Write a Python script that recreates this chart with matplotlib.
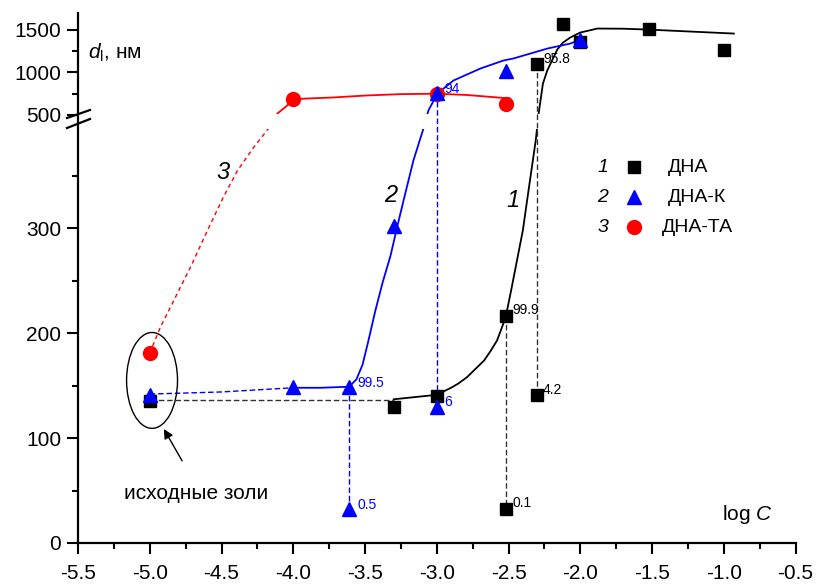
import matplotlib
matplotlib.use("Agg")
import matplotlib.pyplot as plt
import numpy as np
from matplotlib.patches import Ellipse

plt.rcParams['font.family'] = ['Liberation Sans', 'DejaVu Sans']
plt.rcParams['axes.unicode_minus'] = False
plt.rcParams['mathtext.fontset'] = 'custom'
plt.rcParams['mathtext.rm'] = 'Liberation Sans'
plt.rcParams['mathtext.it'] = 'Liberation Sans:italic'

# 1 - ДНА (squares)
sq_x = [-5.0, -3.3, -3.0, -2.52, -2.52, -2.3, -2.3, -2.12, -2.0, -1.52, -1.0]
sq_y = [135, 130, 140, 216, 32, 141, 1105, 1565, 1353, 1517, 1270]
# 2 - ДНА-К (triangles)
tr_x = [-5.0, -4.0, -3.61, -3.61, -3.3, -3.0, -3.0, -2.52, -2.0]
tr_y = [141, 149, 149, 32, 302, 130, 753, 1023, 1388]
# 3 - ДНА-ТА (circles)
ci_x = [-5.0, -4.0, -3.0, -2.52]
ci_y = [181, 682, 750, 624]

# fitted curves
c1_x = [-3.30, -3.02, -2.96, -2.90, -2.85, -2.79, -2.73, -2.67, -2.625, -2.58, -2.55,
        -2.52, -2.48, -2.44, -2.40, -2.37, -2.33, -2.31,
        -2.29, -2.26, -2.23, -2.19, -2.16, -2.12, -2.07, -2.00, -1.88, -1.70, -1.53, -0.93]
c1_y = [137, 141, 144, 148, 152, 158, 166, 174, 183, 193, 204,
        215, 242, 270, 298, 327, 365, 384,
        517, 870, 1023, 1164, 1270, 1352, 1411, 1470, 1517, 1515, 1505, 1458]
c2_x = [-4.00, -3.81, -3.61, -3.56, -3.517, -3.476, -3.427, -3.378, -3.322, -3.273,
        -3.218, -3.162, -3.093, -3.058, -2.995, -2.883, -2.695, -2.535, -2.465,
        -2.228, -2.068, -2.00]
c2_y = [148, 148, 149, 156, 170, 193, 222, 248, 274, 303,
        334, 365, 395, 553, 753, 906, 1047, 1141, 1165,
        1282, 1341, 1388]
c2d_x = [-5.0, -4.5, -4.0]
c2d_y = [142, 144, 148]
c3d_x = [-5.0, -4.925, -4.716, -4.598, -4.486, -4.389, -4.277, -4.145]
c3d_y = [181, 206, 263, 298, 330, 355, 377, 400]
c3_x = [-4.11, -4.05, -4.00, -3.95, -3.72, -3.48, -3.25, -3.00, -2.79, -2.49]
c3_y = [517, 600, 680, 690, 706, 730, 745, 750, 735, 694]

# drop lines
k_drop_x = [-3.61, -3.0]
k_drop_top = [149, 753]
k_drop_bot = [32, 130]
n_drop_x = [-2.52, -2.3]
n_drop_top = [216, 1105]
n_drop_bot = [32, 141]
n_base_x = [-5.0, -3.3]
n_base_y = [136, 136]

# value labels
lab_black = ["95.8", "99.9", "4.2", "0.1"]
lab_black_xy = [(-2.26, 1153), (-2.47, 222), (-2.26, 146), (-2.47, 38)]
lab_blue = ["99.5", "0.5", "6", "94"]
lab_blue_xy = [(-3.55, 153), (-3.55, 36), (-2.95, 134), (-2.95, 800)]

legend_num = ["1", "2", "3"]
legend_txt = ["ДНА", "ДНА-К", "ДНА-ТА"]


def fwd(y):
    y = np.asarray(y, dtype=float)
    return np.where(y <= 400, y, 400 + (y - 400) * 0.081)


def inv(d):
    d = np.asarray(d, dtype=float)
    return np.where(d <= 400, d, 400 + (d - 400) / 0.081)


fig = plt.figure(figsize=(8.19, 5.85), dpi=100)
ax = fig.add_axes([78 / 819, 42 / 585, 717.5 / 819, 530 / 585])
ax.set_yscale('function', functions=(fwd, inv))
ax.set_xlim(-5.5, -0.5)
ax.set_ylim(0, 1700)

# curves
ax.plot(c1_x, c1_y, color='black', lw=1.3, zorder=2, solid_joinstyle='round')
ax.plot(c2_x, c2_y, color='blue', lw=1.3, zorder=2, solid_joinstyle='round')
ax.plot(c2d_x, c2d_y, color='blue', lw=1.0, dashes=(4, 2), zorder=2)
ax.plot(c3d_x, c3d_y, color='red', lw=1.0, dashes=(3, 2.5), zorder=2)
ax.plot(c3_x, c3_y, color='red', lw=1.3, zorder=2, solid_joinstyle='round')

# break band
ax.axhspan(395, 517, color='white', zorder=2.5, lw=0)

# drop lines
ax.plot(n_base_x, n_base_y, color='#333333', lw=1.0, dashes=(4, 2), zorder=3)
for x, t, b in zip(k_drop_x, k_drop_top, k_drop_bot):
    ax.plot([x, x], [t, b], color='blue', lw=1.0, dashes=(4, 2), zorder=3)
for x, t, b in zip(n_drop_x, n_drop_top, n_drop_bot):
    ax.plot([x, x], [t, b], color='#333333', lw=1.0, dashes=(4, 2), zorder=3)

# markers
ax.plot(sq_x, sq_y, 's', color='black', ms=8, ls='none', zorder=4)
ax.plot(tr_x, tr_y, '^', color='blue', ms=10, ls='none', zorder=5)
ax.plot(ci_x, ci_y, 'o', color='red', ms=10, ls='none', zorder=4)

for t, (x, y) in zip(lab_black, lab_black_xy):
    ax.text(x, y, t, fontsize=10, color='black', va='center', ha='left', zorder=6)
for t, (x, y) in zip(lab_blue, lab_blue_xy):
    ax.text(x, y, t, fontsize=10, color='blue', va='center', ha='left', zorder=6)

# curve numbers
ax.text(-4.49, 353, "3", fontsize=17, style='italic', ha='center', va='center')
ax.text(-3.32, 331, "2", fontsize=17, style='italic', ha='center', va='center')
ax.text(-2.47, 327, "1", fontsize=17, style='italic', ha='center', va='center')

# legend
leg_y = [0.7094, 0.6528, 0.5962]
leg_mk = [('s', 'black', 8), ('^', 'blue', 10), ('o', 'red', 10)]
leg_tx = [0.8223, 0.8223, 0.814]
for i in range(3):
    ax.text(0.7317, leg_y[i], legend_num[i], transform=ax.transAxes, fontsize=14,
            style='italic', ha='center', va='center')
    m, c, s = leg_mk[i]
    ax.plot([0.7749], [leg_y[i]], m, color=c, ms=s, transform=ax.transAxes, clip_on=False)
    ax.text(leg_tx[i], leg_y[i], legend_txt[i], transform=ax.transAxes, fontsize=14,
            ha='left', va='center')

# initial sols annotation
ax.add_patch(Ellipse((-4.984, 155), 0.355, 91.4, fill=False, color='black', lw=1.0, zorder=3))
ax.annotate("", xy=(-4.911, 111), xytext=(-4.765, 76),
            arrowprops=dict(arrowstyle='-|>', color='black', lw=1.0, mutation_scale=14))
ax.text(-4.674, 47, "исходные золи", fontsize=15, ha='center', va='center')

ax.text(-1.01, 27, "log $C$", fontsize=15, ha='left', va='center')
ax.text(0.014, 0.925, "$d_{\\mathrm{l}}$, нм", transform=ax.transAxes, fontsize=15,
        ha='left', va='center')

# axes styling
ax.spines['top'].set_visible(False)
ax.spines['right'].set_visible(False)
ax.spines['left'].set_linewidth(1.6)
ax.spines['bottom'].set_linewidth(1.6)
ax.set_xticks(np.arange(-5.5, -0.49, 0.5))
ax.set_xticklabels(["%.1f" % v for v in np.arange(-5.5, -0.49, 0.5)])
ax.set_xticks(np.arange(-5.5, -0.49, 0.25), minor=True)
ax.set_yticks([0, 100, 200, 300, 500, 1000, 1500])
ax.set_yticklabels(["0", "100", "200", "300", "500", "1000", "1500"])
ax.set_yticks([50, 150, 250, 350, 750, 1250], minor=True)
ax.tick_params(which='major', direction='out', length=8, width=1.5, labelsize=15)
ax.tick_params(which='minor', direction='out', length=4, width=1.5)
ax.tick_params(axis='x', which='major', pad=7)
ax.tick_params(axis='y', which='major', pad=4)

# break marks on the y axis
for y0, y1 in [((543 - 118) / 530, (543 - 110) / 530), ((543 - 128) / 530, (543 - 119) / 530)]:
    ax.plot([-11 / 717.5, 12 / 717.5], [y0, y1], color='black', lw=1.6,
            transform=ax.transAxes, clip_on=False, zorder=6)

fig.savefig("out.png", dpi=100)
